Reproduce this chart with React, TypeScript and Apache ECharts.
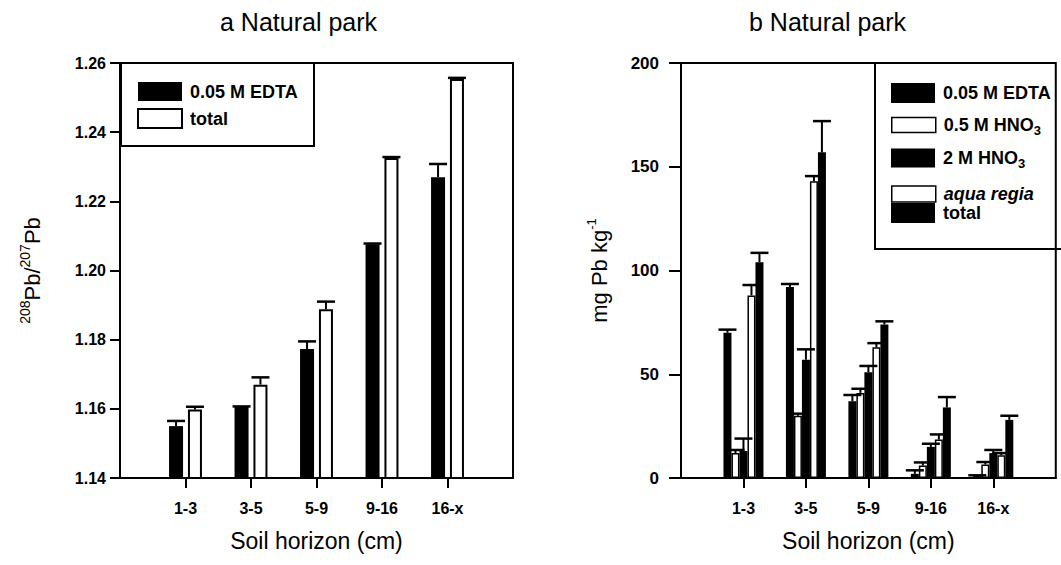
import React, { useEffect, useRef } from "react";
import * as echarts from "echarts";

// ---------- data ----------
const horizons = ["1-3", "3-5", "5-9", "9-16", "16-x"];
const axisCategories = ["", ...horizons, " "];

// panel a: 208Pb/207Pb ratio
const ratioEdta = [1.155, 1.1605, 1.1773, 1.2076, 1.227];
const ratioEdtaErr = [0.0015, 0.0002, 0.0022, 0.0002, 0.0038];
const ratioTotal = [1.1598, 1.167, 1.1888, 1.2325, 1.2554];
const ratioTotalErr = [0.0008, 0.0021, 0.0022, 0.0003, 0.0003];

// panel b: mg Pb kg-1
const pbEdta = [70, 92, 37, 2, 1];
const pbEdtaErr = [1.5, 1.5, 3, 1.7, 0.3];
const pbHno05 = [12, 30, 41, 6, 6.5];
const pbHno05Err = [1.5, 1, 2, 1.5, 1.2];
const pbHno2 = [13, 57, 51, 15, 12];
const pbHno2Err = [6, 5, 3, 1.5, 1.5];
const pbAqua = [88, 143, 63, 18.5, 11];
const pbAquaErr = [5, 2.5, 2, 2.5, 1];
const pbTotal = [104, 157, 74, 34, 28];
const pbTotalErr = [4.5, 15, 1.5, 5, 2];

const ratioTicks = { min: 1.14, max: 1.26, interval: 0.02 };
const pbTicks = { min: 0, max: 200, interval: 50 };

const displayNames: Record<string, string> = {
  aEdta: "0.05 M EDTA",
  aTotal: "total",
  bEdta: "0.05 M EDTA",
  bHno05: "0.5 M HNO{sub|3}",
  bHno2: "2 M HNO{sub|3}",
  bAqua: "{it|aqua regia}",
  bTotal: "total",
};

// ---------- styling ----------
const FONT = '"Liberation Sans", Arial, Helvetica, sans-serif';
const BLACK = "#000";
const A_BAR_W = 14;
const A_GAP = 0.35;
const B_BAR_W = 8;
const CAP_W = 18;

const blackStyle = { color: BLACK };
const whiteStyleA = { color: "#fff", borderColor: BLACK, borderWidth: 2 };
const whiteStyleB = { color: "#fff", borderColor: BLACK, borderWidth: 1.5 };

function errorSeries(
  name: string,
  values: number[],
  errs: number[],
  grid: number,
  offset: number
) {
  return {
    type: "custom",
    name,
    xAxisIndex: grid,
    yAxisIndex: grid,
    z: 5,
    clip: false,
    data: values.map((v, i) => [i + 1, v, errs[i]]),
    renderItem: (params: any, api: any) => {
      const c = api.value(0);
      const v = api.value(1);
      const e = api.value(2);
      const base = api.coord([c, v]);
      const top = api.coord([c, v + e]);
      const x = base[0] + offset;
      return {
        type: "group",
        children: [
          {
            type: "line",
            shape: { x1: x, y1: base[1], x2: x, y2: top[1] },
            style: { stroke: BLACK, lineWidth: 2 },
          },
          {
            type: "line",
            shape: { x1: x - CAP_W / 2, y1: top[1], x2: x + CAP_W / 2, y2: top[1] },
            style: { stroke: BLACK, lineWidth: 2.5 },
          },
        ],
      };
    },
  };
}

function barSeries(name: string, values: number[], grid: number, style: any, extra: any) {
  return {
    type: "bar",
    name,
    xAxisIndex: grid,
    yAxisIndex: grid,
    data: values.map((v, i) => [i + 1, v]),
    itemStyle: style,
    ...extra,
  };
}

function xAxis(grid: number) {
  return {
    type: "category",
    gridIndex: grid,
    data: axisCategories,
    boundaryGap: false,
    axisLine: { show: true, lineStyle: { color: BLACK, width: 2 } },
    axisTick: {
      show: true,
      length: 10,
      interval: (i: number) => i > 0 && i < axisCategories.length - 1,
      lineStyle: { color: BLACK, width: 2 },
    },
    axisLabel: {
      show: true,
      interval: 0,
      margin: 22,
      fontSize: 16,
      fontWeight: "bold",
      color: BLACK,
      fontFamily: FONT,
    },
    splitLine: { show: false },
    name: "Soil horizon (cm)",
    nameLocation: "middle",
    nameGap: 51,
    nameTextStyle: { fontSize: 23, color: BLACK, fontFamily: FONT },
  };
}

export default function App() {
  const ref = useRef<HTMLDivElement>(null);

  useEffect(() => {
    if (!ref.current) return;
    const chart = echarts.init(ref.current, null, { renderer: "svg" });

    const aOff = (A_BAR_W * (1 + A_GAP)) / 2;
    const bOffsets = [-2, -1, 0, 1, 2].map((k) => k * B_BAR_W);

    const option: any = {
      animation: false,
      backgroundColor: "#fff",
      textStyle: { fontFamily: FONT, color: BLACK },
      title: [
        {
          text: "a Natural park",
          left: 215,
          top: 4,
          padding: 5,
          textStyle: { fontSize: 25, fontWeight: "normal", color: BLACK, fontFamily: FONT },
        },
        {
          text: "b Natural park",
          left: 744,
          top: 4,
          padding: 5,
          textStyle: { fontSize: 25, fontWeight: "normal", color: BLACK, fontFamily: FONT },
        },
      ],
      grid: [
        {
          left: 120, top: 63, width: 393, height: 415,
          show: true, borderColor: BLACK, borderWidth: 2, backgroundColor: "transparent",
        },
        {
          left: 681, top: 63, width: 390, height: 415,
          show: true, borderColor: BLACK, borderWidth: 2, backgroundColor: "transparent",
        },
      ],
      xAxis: [xAxis(0), xAxis(1)],
      yAxis: [
        {
          type: "value",
          gridIndex: 0,
          min: ratioTicks.min,
          max: ratioTicks.max,
          interval: ratioTicks.interval,
          axisLine: { show: true, lineStyle: { color: BLACK, width: 2 } },
          axisTick: { show: true, length: 10, lineStyle: { color: BLACK, width: 2 } },
          axisLabel: {
            margin: 14,
            fontSize: 16,
            fontWeight: "bold",
            color: BLACK,
            fontFamily: FONT,
            formatter: (v: number) => v.toFixed(2),
          },
          splitLine: { show: false },
          name: "{sup|208}Pb/{sup|207}Pb",
          nameLocation: "middle",
          nameRotate: 90,
          nameGap: 74,
          nameTextStyle: {
            fontSize: 22,
            lineHeight: 28,
            color: BLACK,
            fontFamily: FONT,
            rich: { sup: { fontSize: 14, lineHeight: 14, verticalAlign: "top" } },
          },
        },
        {
          type: "value",
          gridIndex: 1,
          min: pbTicks.min,
          max: pbTicks.max,
          interval: pbTicks.interval,
          axisLine: { show: true, lineStyle: { color: BLACK, width: 2 } },
          axisTick: { show: true, length: 12, lineStyle: { color: BLACK, width: 2 } },
          axisLabel: {
            margin: 22,
            fontSize: 17,
            fontWeight: "bold",
            color: BLACK,
            fontFamily: FONT,
          },
          splitLine: { show: false },
          name: "mg Pb kg{sup|-1}",
          nameLocation: "middle",
          nameRotate: 90,
          nameGap: 68,
          nameTextStyle: {
            fontSize: 22,
            lineHeight: 28,
            color: BLACK,
            fontFamily: FONT,
            rich: { sup: { fontSize: 13, lineHeight: 13, verticalAlign: "top" } },
          },
        },
      ],
      legend: [
        {
          data: [
            { name: "aEdta", itemStyle: blackStyle },
            { name: "aTotal", itemStyle: whiteStyleA },
          ],
          orient: "vertical",
          left: 137,
          top: 82,
          padding: 0,
          itemGap: 7,
          itemWidth: 44,
          itemHeight: 19,
          icon: "rect",
          selectedMode: false,
          formatter: (n: string) => displayNames[n],
          textStyle: { fontSize: 18, fontWeight: "bold", lineHeight: 19, color: BLACK, fontFamily: FONT, padding: [0, 0, 0, 3] },
        },
        ...[
          { name: "bEdta", style: blackStyle, center: 93, h: 20 },
          { name: "bHno05", style: whiteStyleB, center: 125, h: 15 },
          { name: "bHno2", style: blackStyle, center: 158, h: 19 },
          { name: "bAqua", style: whiteStyleB, center: 194, h: 16 },
          { name: "bTotal", style: blackStyle, center: 213, h: 20 },
        ].map((it) => ({
          data: [{ name: it.name, itemStyle: it.style }],
          left: 891,
          top: it.center - 12,
          padding: 0,
          itemWidth: 44,
          itemHeight: it.h,
          icon: "rect",
          selectedMode: false,
          formatter: (n: string) => displayNames[n],
          textStyle: {
            fontSize: 18,
            fontWeight: "bold",
            lineHeight: 24,
            color: BLACK,
            fontFamily: FONT,
            padding: [0, 0, 0, 3],
            rich: {
              sub: { fontSize: 13, lineHeight: 12, verticalAlign: "bottom", fontWeight: "bold" },
              it: { fontStyle: "italic", fontWeight: "bold" },
            },
          },
        })),
      ],
      graphic: [
        {
          type: "rect",
          z: 10,
          shape: { x: 121, y: 63, width: 193, height: 83 },
          style: { fill: "none", stroke: BLACK, lineWidth: 2 },
        },
        {
          type: "polyline",
          z: 10,
          shape: { points: [[1061, 249], [875, 249], [875, 63]] },
          style: { fill: "none", stroke: BLACK, lineWidth: 2 },
        },
      ],
      series: [
        barSeries("aEdta", ratioEdta, 0, blackStyle, { barWidth: A_BAR_W, barGap: "35%" }),
        barSeries("aTotal", ratioTotal, 0, whiteStyleA, { barWidth: A_BAR_W, barGap: "35%" }),
        errorSeries("aEdtaErr", ratioEdta, ratioEdtaErr, 0, -aOff),
        errorSeries("aTotalErr", ratioTotal, ratioTotalErr, 0, aOff),

        barSeries("bEdta", pbEdta, 1, blackStyle, { barWidth: B_BAR_W, barGap: "0%" }),
        barSeries("bHno05", pbHno05, 1, whiteStyleB, { barWidth: B_BAR_W, barGap: "0%" }),
        barSeries("bHno2", pbHno2, 1, blackStyle, { barWidth: B_BAR_W, barGap: "0%" }),
        barSeries("bAqua", pbAqua, 1, whiteStyleB, { barWidth: B_BAR_W, barGap: "0%" }),
        barSeries("bTotal", pbTotal, 1, blackStyle, { barWidth: B_BAR_W, barGap: "0%" }),
        errorSeries("bEdtaErr", pbEdta, pbEdtaErr, 1, bOffsets[0]),
        errorSeries("bHno05Err", pbHno05, pbHno05Err, 1, bOffsets[1]),
        errorSeries("bHno2Err", pbHno2, pbHno2Err, 1, bOffsets[2]),
        errorSeries("bAquaErr", pbAqua, pbAquaErr, 1, bOffsets[3]),
        errorSeries("bTotalErr", pbTotal, pbTotalErr, 1, bOffsets[4]),
      ],
    };

    chart.setOption(option);
    return () => chart.dispose();
  }, []);

  return (
    <div
      ref={ref}
      style={{ position: "absolute", left: 0, top: 0, width: 1061, height: 565 }}
    />
  );
}
